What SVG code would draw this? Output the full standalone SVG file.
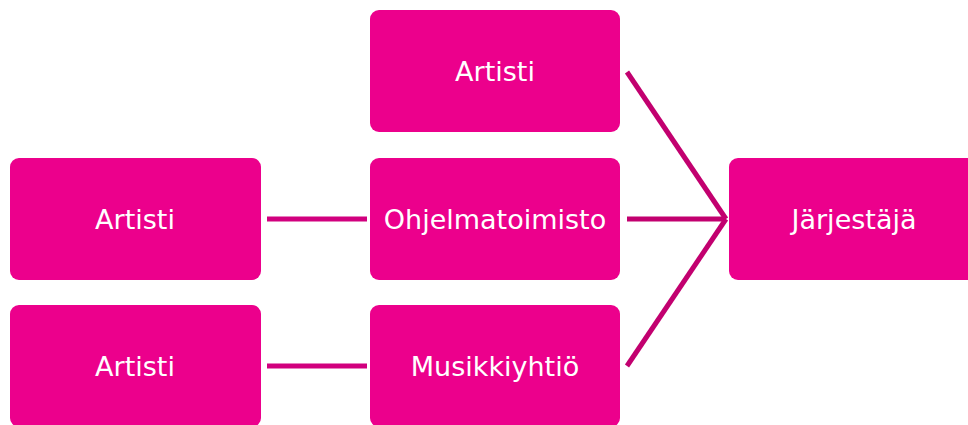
<svg xmlns="http://www.w3.org/2000/svg" width="968" height="425" viewBox="0 0 968 425">
<style>
.box{fill:#EC008C;}
.lbl{font-family:"DejaVu Sans",Verdana,sans-serif;font-size:27px;fill:#FFFFFF;text-anchor:middle;dominant-baseline:central;}
.c1{stroke:#D1007E;stroke-width:5;fill:none;}
.c2{stroke:#C2006F;stroke-width:5;fill:none;}
</style>
<rect width="968" height="425" fill="#FFFFFF"/>
<g id="connectors">
<line class="c1" x1="267" y1="219" x2="367" y2="219"/>
<line class="c1" x1="267" y1="366" x2="367" y2="366"/>
<line class="c2" x1="627" y1="219" x2="726" y2="219"/>
<line class="c2" x1="627" y1="72" x2="726" y2="219"/>
<line class="c2" x1="627" y1="366" x2="726" y2="219"/>
</g>
<g id="artisti-top"><rect class="box" x="370" y="10" width="250" height="122" rx="9"/><text class="lbl" x="495" y="71">Artisti</text></g>
<g id="artisti-mid"><rect class="box" x="10" y="158" width="251" height="122" rx="9"/><text class="lbl" x="135" y="219">Artisti</text></g>
<g id="ohjelmatoimisto"><rect class="box" x="370" y="158" width="250" height="122" rx="9"/><text class="lbl" x="495" y="219">Ohjelmatoimisto</text></g>
<g id="artisti-bottom"><rect class="box" x="10" y="305" width="251" height="122" rx="9"/><text class="lbl" x="135" y="366">Artisti</text></g>
<g id="musiikkiyhtio"><rect class="box" x="370" y="305" width="250" height="122" rx="9"/><text class="lbl" x="495" y="366">Musikkiyhtiö</text></g>
<g id="jarjestaja"><rect class="box" x="729" y="158" width="250" height="122" rx="9"/><text class="lbl" x="854" y="219">Järjestäjä</text></g>
</svg>
